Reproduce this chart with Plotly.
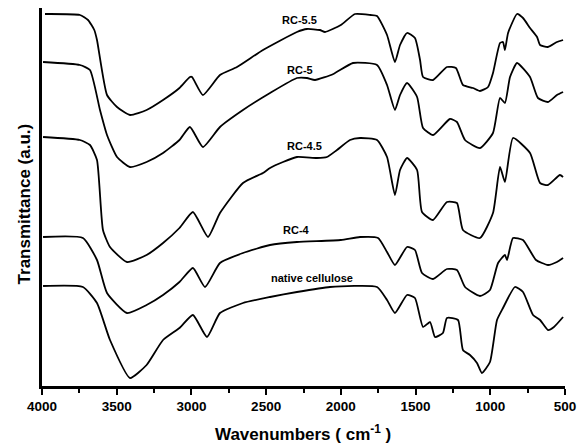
import plotly.graph_objects as go

# Wavenumbers (cm-1) and transmittance (a.u., offset stacked)
rc55_w = [3980, 3746, 3692, 3650, 3632, 3565, 3498, 3411, 3300, 3190, 3080, 3010, 2996, 2923, 2809, 2695, 2521, 2294, 2227, 2140, 2106, 2000, 1905, 1800, 1758, 1691, 1638, 1604, 1557, 1504, 1470, 1450, 1383, 1290, 1230, 1183, 1116, 1069, 1015, 982, 935, 915, 902, 881, 821, 781, 734, 687, 667, 614, 554, 513]
rc55_t = [372, 371, 366, 356, 346, 291, 279, 271, 276, 286, 298, 309, 309, 291, 311, 319, 336, 354, 357, 356, 354, 361, 372, 371, 370, 351, 324, 341, 353, 348, 326, 309, 306, 319, 318, 301, 298, 295, 299, 313, 343, 344, 336, 353, 372, 368, 358, 349, 341, 339, 344, 346]

rc5_w = [3993, 3746, 3679, 3612, 3565, 3498, 3411, 3300, 3190, 3080, 3010, 2923, 2809, 2655, 2474, 2294, 2227, 2173, 2050, 1919, 1758, 1691, 1638, 1604, 1557, 1490, 1450, 1383, 1270, 1223, 1169, 1069, 982, 935, 902, 868, 821, 734, 681, 614, 554, 513]
rc5_t = [324, 321, 316, 276, 251, 229, 219, 224, 233, 246, 259, 239, 259, 276, 293, 308, 308, 306, 312, 323, 321, 301, 276, 291, 303, 289, 258, 251, 267, 264, 246, 238, 253, 288, 283, 309, 323, 309, 288, 284, 291, 294]

rc45_w = [3993, 3746, 3679, 3632, 3592, 3545, 3431, 3300, 3190, 3080, 2990, 2889, 2809, 2655, 2521, 2474, 2387, 2294, 2160, 2093, 2026, 1939, 1872, 1758, 1691, 1638, 1604, 1557, 1490, 1457, 1383, 1290, 1223, 1183, 1069, 982, 935, 902, 848, 734, 667, 614, 534, 513]
rc45_t = [249, 246, 241, 226, 156, 139, 124, 131, 143, 158, 174, 149, 173, 203, 213, 218, 224, 229, 228, 229, 236, 246, 248, 246, 229, 191, 216, 228, 216, 174, 166, 184, 183, 156, 148, 173, 219, 204, 248, 233, 203, 201, 211, 209]

rc4_w = [3993, 3726, 3632, 3565, 3431, 3300, 3190, 3080, 2990, 2909, 2809, 2655, 2474, 2294, 2000, 1872, 1751, 1691, 1638, 1557, 1504, 1457, 1383, 1290, 1223, 1169, 1069, 1002, 948, 902, 888, 848, 781, 694, 614, 554, 513]
rc4_t = [149, 148, 126, 93, 73, 81, 91, 104, 118, 99, 123, 133, 141, 144, 146, 149, 148, 134, 121, 139, 136, 113, 107, 117, 116, 99, 90, 96, 123, 131, 126, 148, 146, 126, 121, 124, 128]

nat_w = [3993, 3726, 3632, 3545, 3411, 3300, 3190, 3080, 2990, 2896, 2809, 2655, 2474, 2294, 2073, 1758, 1691, 1638, 1557, 1504, 1450, 1403, 1370, 1317, 1290, 1216, 1183, 1136, 1089, 1056, 1002, 955, 915, 835, 781, 714, 667, 614, 574, 513]
nat_t = [100, 99, 83, 46, 8, 21, 46, 58, 71, 49, 73, 83, 89, 94, 99, 99, 86, 73, 91, 88, 59, 64, 49, 53, 68, 66, 36, 31, 23, 13, 24, 66, 78, 99, 94, 71, 66, 56, 59, 69]

series_names = ["RC-5.5", "RC-5", "RC-4.5", "RC-4", "native cellulose"]
label_w = [2280, 2273, 2240, 2294, 2193]
label_t = [366, 316, 240, 156, 108]

fig = go.Figure()
for name, w, t in zip(series_names, [rc55_w, rc5_w, rc45_w, rc4_w, nat_w],
                      [rc55_t, rc5_t, rc45_t, rc4_t, nat_t]):
    fig.add_trace(go.Scatter(x=w, y=t, mode="lines", name=name,
                             line=dict(color="black", width=1.8, shape="spline", smoothing=0.5),
                             showlegend=False))

font_family = "Liberation Sans, Arial, sans-serif"
for name, lw, lt in zip(series_names, label_w, label_t):
    fig.add_annotation(x=lw, y=lt, text="<b>%s</b>" % name, showarrow=False,
                       font=dict(family=font_family, size=11, color="black"),
                       xanchor="center", yanchor="middle")

fig.add_annotation(xref="paper", yref="paper", x=0.499, y=-0.124,
                   text="<b>Wavenumbers ( cm<sup>-1</sup> )</b>", showarrow=False,
                   font=dict(family=font_family, size=17, color="black"),
                   xanchor="center", yanchor="middle")
fig.add_annotation(xref="paper", yref="paper", x=-0.034, y=0.481,
                   text="<b>Transmittance (a.u.)</b>", showarrow=False, textangle=-90,
                   font=dict(family=font_family, size=17, color="black"),
                   xanchor="center", yanchor="middle")

fig.update_layout(
    width=583, height=447,
    margin=dict(l=42, r=18, t=8, b=61),
    paper_bgcolor="white", plot_bgcolor="white",
    xaxis=dict(range=[4000, 500], tickmode="array",
               tickvals=[4000, 3500, 3000, 2500, 2000, 1500, 1000, 500],
               ticktext=["<b>4000</b>", "<b>3500</b>", "<b>3000</b>", "<b>2500</b>",
                         "<b>2000</b>", "<b>1500</b>", "<b>1000</b>", "<b>500</b>"],
               showline=True, linecolor="black", linewidth=3,
               ticks="outside", ticklen=6, tickwidth=2, tickcolor="black",
               minor=dict(tickmode="array", tickvals=[3750, 3250, 2750, 2250, 1750, 1250, 750],
                          ticks="outside", ticklen=4, tickwidth=2, tickcolor="black"),
               showgrid=False, zeroline=False,
               tickfont=dict(family=font_family, size=13.5, color="black")),
    yaxis=dict(range=[0, 378], showline=True, linecolor="black", linewidth=3,
               showticklabels=False, ticks="", showgrid=False, zeroline=False),
)

fig.write_html("out.html")
